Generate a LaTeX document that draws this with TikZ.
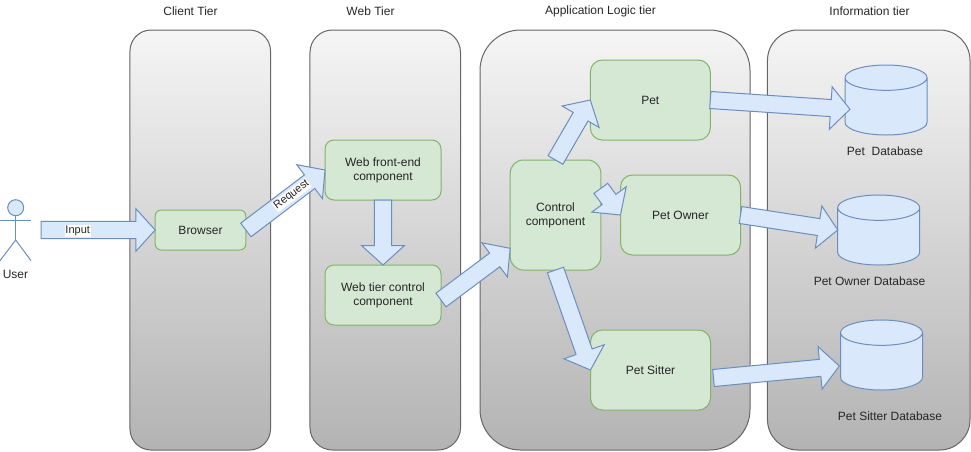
\documentclass[tikz,border=0pt]{standalone}
\usepackage{fontspec}
\setmainfont{Liberation Sans}
\usepackage{xcolor}
\usetikzlibrary{calc,shapes.geometric}

\definecolor{tierfill}{HTML}{F5F5F5}
\definecolor{tiershade}{HTML}{B3B3B3}
\definecolor{tierline}{HTML}{666666}
\definecolor{compfill}{HTML}{D5E8D4}
\definecolor{compline}{HTML}{82B366}
\definecolor{flowfill}{HTML}{DAE8FC}
\definecolor{flowline}{HTML}{6C8EBF}

\tikzset{
    tier/.style={draw=tierline, line width=0.75pt, top color=tierfill, bottom color=tiershade,
        minimum height=315pt, inner sep=0pt, outer sep=0pt},
    compbox/.style={draw=compline, line width=0.75pt, fill=compfill, align=center,
        inner sep=0pt, outer sep=0pt, font=\fontsize{9}{10.5}\selectfont, text=black!85},
    dbnode/.style={cylinder, anchor=shape center, shape border rotate=90, shape aspect=1.9, draw=flowline, line width=0.75pt,
        fill=flowfill, minimum width=61.5pt, minimum height=52.5pt, inner xsep=5pt, inner ysep=11pt, outer sep=0pt},
    lab/.style={font=\fontsize{9}{10.5}\selectfont, text=black!85, inner sep=0pt},
    flowlab/.style={font=\fontsize{8.25}{10}\selectfont, text=black!85, fill=white, inner sep=0.5pt},
    actor/.style={draw=flowline, line width=0.75pt},
    blockarrow/.style={draw=flowline, line width=0.75pt, fill=flowfill, line join=miter,
        to path={
            -- ($(\tikztostart)!6.4pt!90:(\tikztotarget)$)
            -- ($(\tikztotarget)!14.5pt!(\tikztostart)!6.4pt!90:(\tikztotarget)$)
            -- ($(\tikztotarget)!14.5pt!(\tikztostart)!16pt!90:(\tikztotarget)$)
            -- (\tikztotarget)
            -- ($(\tikztotarget)!14.5pt!(\tikztostart)!16pt!-90:(\tikztotarget)$)
            -- ($(\tikztotarget)!14.5pt!(\tikztostart)!6.4pt!-90:(\tikztotarget)$)
            -- ($(\tikztostart)!6.4pt!-90:(\tikztotarget)$)
            -- cycle
        }},
}

\begin{document}
\begin{tikzpicture}[x=0.75pt, y=-0.75pt]
    \useasboundingbox (0, 0) rectangle (971, 451);

    % 1. Tiers
    \node[tier, minimum width=105.4pt, rounded corners=15.8pt] (clienttier) at (200.25, 240) {};
    \node[tier, minimum width=112.9pt, rounded corners=16.9pt] (webtier) at (385.25, 240) {};
    \node[tier, minimum width=202.5pt, rounded corners=30.4pt] (apptier) at (615, 240) {};
    \node[tier, minimum width=151.9pt, rounded corners=22.8pt] (infotier) at (868.75, 240) {};
    \node[lab] (clienttitle) at (190.5, 11) {Client Tier};
    \node[lab] (webtitle) at (370.5, 11) {Web Tier};
    \node[lab] (apptitle) at (600.5, 11) {Application Logic tier};
    \node[lab] (infotitle) at (869.5, 11) {Information tier};

    % 2. User
    \node[actor, circle, fill=flowfill, minimum size=12pt, inner sep=0pt, outer sep=0pt] (user) at (15.7, 207.7) {};
    \coordinate (hip) at (15.7, 240);
    \coordinate (userout) at (41, 230);
    \draw[actor] (user.south) -- (hip);
    \draw[actor] (0, 220) -- (31, 220);
    \draw[actor] (0, 260.7) -- (hip) -- (31, 260.7);
    \node[lab] (userlab) at (15.5, 274) {User};

    % 3. Components
    \node[compbox, minimum width=68pt, minimum height=30pt, rounded corners=4.5pt] (browser) at (200.5, 230) {Browser};
    \node[compbox, minimum width=87pt, minimum height=45pt, rounded corners=6.75pt] (webfront) at (383, 170) {Web front-end\\component};
    \node[compbox, minimum width=87pt, minimum height=45pt, rounded corners=6.75pt] (webctrl) at (383, 295) {Web tier control\\component};
    \node[compbox, minimum width=68pt, minimum height=82.5pt, rounded corners=10pt] (control) at (555.5, 215) {Control\\component};
    \node[compbox, minimum width=90pt, minimum height=60pt, rounded corners=9pt] (pet) at (650.3, 100) {Pet};
    \node[compbox, minimum width=90pt, minimum height=60pt, rounded corners=9pt] (owner) at (680.5, 215) {Pet Owner};
    \node[compbox, minimum width=90pt, minimum height=60pt, rounded corners=9pt] (sitter) at (650.5, 370) {Pet Sitter};

    % 4. Databases
    \node[dbnode] (petdb) at (886, 100) {};
    \node[dbnode] (ownerdb) at (878.7, 230) {};
    \node[dbnode] (sitterdb) at (881.5, 355) {};
    \node[lab] (petdblab) at (885, 151) {Pet\ \ Database};
    \node[lab] (ownerdblab) at (869.5, 281) {Pet Owner Database};
    \node[lab] (sitterdblab) at (890, 416) {Pet Sitter Database};

    % 5. Flows
    \draw[blockarrow] (userout) to (browser.west);
    \draw[blockarrow] (browser.east) to (webfront.west);
    \draw[blockarrow] (webfront.south) to (webctrl.north);
    \draw[blockarrow] ([yshift=-3.75pt]webctrl.east) to ([yshift=-25pt]control.west);
    \draw[blockarrow] (control.north) to (pet.west);
    \draw[blockarrow] ([yshift=20pt]control.east) to (owner.west);
    \draw[blockarrow] (control.south) to (sitter.west);
    \draw[blockarrow] (pet.east) to ([xshift=-27pt,yshift=-7pt]petdb.shape center);
    \draw[blockarrow] (owner.east) to ([xshift=-30.75pt]ownerdb.shape center);
    \draw[blockarrow] ([xshift=2.25pt,yshift=-6pt]sitter.east) to ([xshift=-31.65pt,yshift=-8.25pt]sitterdb.shape center);
    \node[flowlab] (inputlab) at (77.7, 231) {Input};
    \node[flowlab, rotate=37] (requestlab) at (291.7, 195) {Request};
\end{tikzpicture}
\end{document}
